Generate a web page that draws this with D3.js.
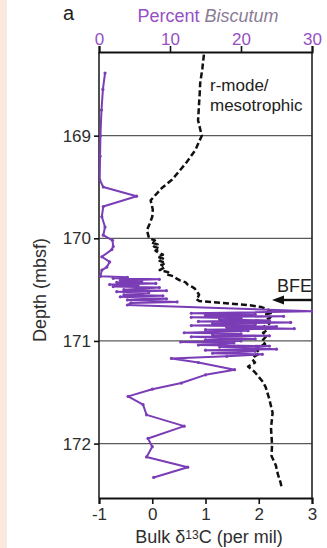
<!DOCTYPE html>
<html>
<head>
<meta charset="utf-8">
<script src="https://cdn.jsdelivr.net/npm/d3@7/dist/d3.min.js"></script>
<style>
  html, body { margin: 0; padding: 0; background: #ffffff; }
  svg { display: block; }
  text { font-family: "Liberation Sans", Arial, Helvetica, sans-serif; }
</style>
</head>
<body>
<svg id="chart" width="327" height="548"></svg>
<script>
// Depth ticks (mbsf) and axis ticks
const depthTicks = [169, 170, 171, 172];
const carbonTicks = [-1, 0, 1, 2, 3];
const percentTicks = [0, 10, 20, 30];

// Bulk carbon isotope record: depth (mbsf), d13C (per mil)
const carbonDepth = [
  168.21, 168.35, 168.49, 168.60, 168.68, 168.77, 168.85, 169.00, 169.14, 169.27,
  169.43, 169.51, 169.63, 169.72, 169.79, 169.86, 169.92, 170.00, 170.02, 170.04,
  170.06, 170.08, 170.10, 170.12, 170.14, 170.16, 170.18, 170.20, 170.22, 170.24,
  170.26, 170.28, 170.31, 170.33, 170.35, 170.37, 170.39, 170.41, 170.43, 170.45,
  170.47, 170.49, 170.52, 170.55, 170.57, 170.59, 170.61, 170.63, 170.65, 170.67,
  170.70, 170.72, 170.74, 170.77, 170.80, 170.83, 170.86, 170.89, 170.92, 170.95,
  171.00, 171.03, 171.06, 171.09, 171.12, 171.15, 171.18, 171.21, 171.25, 171.30,
  171.35, 171.40, 171.45, 171.57, 171.70, 171.85, 172.01, 172.12, 172.21, 172.30,
  172.38, 172.43
];
const carbonValue = [
  0.97, 0.94, 0.90, 0.89, 0.88, 0.87, 0.86, 0.93, 0.81, 0.63,
  0.37, 0.18, -0.03, 0.01, 0.00, -0.05, -0.10, -0.06, 0.05, -0.02,
  0.10, 0.03, 0.14, 0.06, 0.12, 0.20, 0.10, 0.22, 0.14, 0.25,
  0.17, 0.24, 0.14, 0.30, 0.26, 0.40, 0.45, 0.52, 0.63, 0.66,
  0.74, 0.80, 0.84, 0.88, 0.86, 0.82, 0.88, 1.30, 1.80, 2.05,
  2.20, 2.28, 2.14, 2.22, 2.12, 2.20, 2.10, 2.18, 2.08, 2.15,
  2.06, 2.12, 2.00, 1.97, 2.02, 1.92, 1.88, 1.93, 1.80, 1.92,
  2.00, 2.08, 2.13, 2.20, 2.26, 2.23, 2.25, 2.24, 2.32, 2.36,
  2.41, 2.43
];

// Percent Biscutum record: depth (mbsf), percent
const biscDepth = [
  168.39, 168.55, 168.75, 169.00, 169.20, 169.43, 169.50, 169.59, 169.69, 169.79,
  169.89, 169.97, 170.02, 170.08, 170.11, 170.18, 170.23, 170.28, 170.31, 170.37,
  170.38, 170.39, 170.40, 170.41, 170.42, 170.43, 170.44, 170.45, 170.46, 170.47,
  170.48, 170.50, 170.51, 170.52, 170.53, 170.55, 170.56, 170.57, 170.59, 170.60,
  170.62, 170.63, 170.65, 170.71, 170.73, 170.74, 170.75, 170.76, 170.77, 170.78,
  170.79, 170.80, 170.81, 170.82, 170.83, 170.84, 170.85, 170.86, 170.87, 170.88,
  170.89, 170.90, 170.92, 170.93, 170.94, 170.95, 170.96, 170.98, 170.99, 171.00,
  171.01, 171.02, 171.04, 171.05, 171.06, 171.08, 171.09, 171.10, 171.12, 171.13,
  171.15, 171.17, 171.21, 171.28, 171.33, 171.41, 171.47, 171.54, 171.62, 171.72,
  171.83, 171.95, 172.03, 172.13, 172.23, 172.33
];
const biscValue = [
  0.85, 0.55, 0.35, 0.2, 0.15, 0.1, 0.6, 5.3, 0.6, 0.4,
  0.85, 0.6, 1.9, 2.0, 1.8, 0.4, 1.5, 1.1, 0.4, 0.2,
  4.0, 2.0, 8.5, 3.0, 6.0, 2.5, 8.0, 1.5, 5.5, 2.0,
  8.5, 3.5, 9.5, 2.5, 7.0, 3.5, 9.0, 3.0, 9.5, 4.0,
  11.0, 4.5, 4.0, 30.0, 13.0, 22.0, 15.0, 26.0, 13.0, 20.0,
  17.0, 24.0, 14.0, 27.0, 16.0, 22.0, 13.0, 25.0, 18.0, 27.5,
  15.0, 21.0, 12.0, 20.0, 16.0, 24.0, 13.0, 22.0, 15.0, 20.0,
  11.5, 19.0, 14.0, 24.0, 17.0, 25.0, 15.0, 22.0, 16.0, 23.0,
  18.0, 10.2, 14.0, 19.1, 15.0, 11.6, 7.5, 4.1, 6.2, 6.7,
  12.0, 6.9, 7.5, 6.7, 12.5, 7.7
];

const purple = "#7a3db6";
const purpleText = "#9650c4";
const inkGray = "#2e2e2e";
const fontSize = 17;

const svg = d3.select("#chart");

// light margin strip at the left edge
svg.append("rect").attr("x", 0).attr("y", 0).attr("width", 7).attr("height", 548).attr("fill", "#fbe9de");

const boxLeft = 99, boxRight = 312, boxTop = 52, boxBottom = 498;

const y = d3.scaleLinear().domain([168.185, 172.53]).range([boxTop, boxBottom]);
const xC = d3.scaleLinear().domain([-1, 3]).range([boxLeft, boxRight]);
const xP = d3.scaleLinear().domain([0, 30]).range([boxLeft, boxRight]);

// horizontal depth grid
svg.append("g").selectAll("line").data(depthTicks).join("line")
  .attr("x1", boxLeft).attr("x2", boxRight)
  .attr("y1", d => y(d)).attr("y2", d => y(d))
  .attr("stroke", "#5a5a5a").attr("stroke-width", 1.3);

// frame sides
svg.append("line").attr("x1", boxLeft).attr("x2", boxLeft).attr("y1", boxTop).attr("y2", boxBottom)
  .attr("stroke", "#222").attr("stroke-width", 1.6);
svg.append("line").attr("x1", boxRight).attr("x2", boxRight).attr("y1", boxTop).attr("y2", boxBottom)
  .attr("stroke", "#222").attr("stroke-width", 1.6);

// axes
function styleAxis(g, color) {
  g.select(".domain").attr("stroke", "#111").attr("stroke-width", 2);
  g.selectAll(".tick line").attr("stroke", "#111").attr("stroke-width", 1.6);
  g.selectAll(".tick text").attr("fill", color).attr("font-size", fontSize)
    .attr("font-family", "'Liberation Sans', Arial, sans-serif");
}
const plainInt = d => String(d);

const gBottom = svg.append("g").attr("transform", `translate(0,${boxBottom})`)
  .call(d3.axisBottom(xC).tickValues(carbonTicks).tickSizeOuter(0).tickSize(6).tickPadding(4)
    .tickFormat(plainInt));
styleAxis(gBottom, inkGray);

const gTop = svg.append("g").attr("transform", `translate(0,${boxTop})`)
  .call(d3.axisTop(xP).tickValues(percentTicks).tickSizeOuter(0).tickSize(6).tickPadding(1)
    .tickFormat(plainInt));
styleAxis(gTop, purpleText);

const gLeft = svg.append("g").attr("transform", `translate(${boxLeft},0)`)
  .call(d3.axisLeft(y).tickValues(depthTicks).tickSizeOuter(0).tickSize(5).tickPadding(3)
    .tickFormat(plainInt));
gLeft.select(".domain").remove();
styleAxis(gLeft, inkGray);

// clip to the plotting box
svg.append("clipPath").attr("id", "box").append("rect")
  .attr("x", boxLeft).attr("y", boxTop).attr("width", boxRight - boxLeft + 1).attr("height", boxBottom - boxTop);

const plot = svg.append("g").attr("clip-path", "url(#box)");

// d13C dashed curve
const carbonPts = carbonDepth.map((d, i) => [xC(carbonValue[i]), y(d)]);
plot.append("path").attr("d", d3.line()(carbonPts))
  .attr("fill", "none").attr("stroke", "#111").attr("stroke-width", 2.5)
  .attr("stroke-dasharray", "6,3").attr("stroke-linejoin", "round");

// Biscutum curve with point markers
const biscPts = biscDepth.map((d, i) => [xP(biscValue[i]), y(d)]);
plot.append("path").attr("d", d3.line()(biscPts))
  .attr("fill", "none").attr("stroke", purple).attr("stroke-width", 2)
  .attr("stroke-linejoin", "round");
plot.append("g").selectAll("circle").data(biscPts).join("circle")
  .attr("cx", d => d[0]).attr("cy", d => d[1]).attr("r", 1.6).attr("fill", purple);

// BFE marker
svg.append("text").attr("x", 277).attr("y", 292).attr("font-size", 18).attr("fill", "#222").text("BFE");
const arrowY = 300;
svg.append("line").attr("x1", boxRight).attr("x2", 282).attr("y1", arrowY).attr("y2", arrowY)
  .attr("stroke", "#111").attr("stroke-width", 2.4);
svg.append("path")
  .attr("d", d3.line()([[272, arrowY], [284, arrowY - 4.5], [284, arrowY + 4.5]]) + "Z")
  .attr("fill", "#111");

// curve annotation
svg.append("text").attr("x", 210).attr("y", 91).attr("font-size", 17).attr("fill", "#222").text("r-mode/");
svg.append("text").attr("x", 210).attr("y", 111).attr("font-size", 17).attr("fill", "#222").text("mesotrophic");

// titles
svg.append("text").attr("x", 63).attr("y", 20).attr("font-size", 20).attr("fill", "#222").text("a");

const topTitle = svg.append("text").attr("x", 208).attr("y", 22).attr("text-anchor", "middle")
  .attr("font-size", 18);
topTitle.append("tspan").attr("fill", purpleText).text("Percent ");
topTitle.append("tspan").attr("fill", "#8a7c96").attr("font-style", "italic").text("Biscutum");

svg.append("text").attr("transform", "translate(46,290) rotate(-90)").attr("text-anchor", "middle")
  .attr("font-size", 18).attr("fill", inkGray).text("Depth (mbsf)");

const xTitle = svg.append("text").attr("x", 209).attr("y", 543).attr("text-anchor", "middle")
  .attr("font-size", 18).attr("fill", inkGray);
xTitle.append("tspan").text("Bulk δ");
xTitle.append("tspan").attr("font-size", 12).attr("dy", -4).text("13");
xTitle.append("tspan").attr("dy", 4).text("C (per mil)");
</script>
</body>
</html>
